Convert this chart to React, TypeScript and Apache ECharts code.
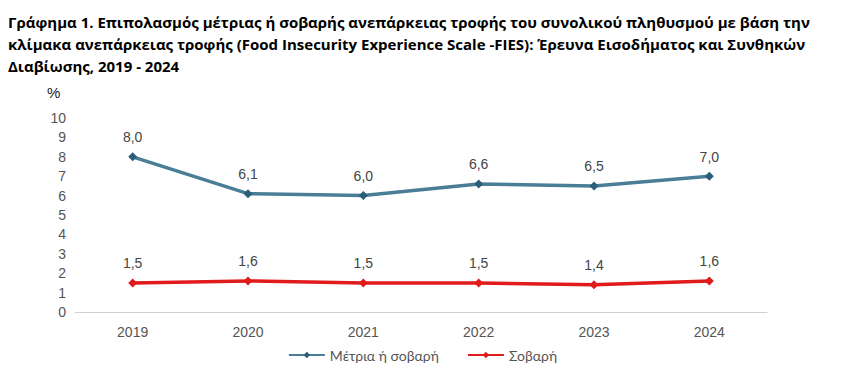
import React, { useEffect, useRef } from "react";
import * as echarts from "echarts";

const categories = ["2019", "2020", "2021", "2022", "2023", "2024"];
const moderateOrSevere = [8.0, 6.1, 6.0, 6.6, 6.5, 7.0];
const severe = [1.5, 1.6, 1.5, 1.5, 1.4, 1.6];
const seriesNames = ["Μέτρια ή σοβαρή", "Σοβαρή"];
const titleLines = [
  "Γράφημα 1. Επιπολασμός μέτριας ή σοβαρής ανεπάρκειας τροφής του συνολικού πληθυσμού με βάση την",
  "κλίμακα ανεπάρκειας τροφής (Food Insecurity Experience Scale -FIES): Έρευνα Εισοδήματος και Συνθηκών",
  "Διαβίωσης, 2019 - 2024",
];

const fmt = (v: number) => v.toFixed(1).replace(".", ",");

export default function App() {
  const ref = useRef<HTMLDivElement>(null);
  useEffect(() => {
    if (!ref.current) return;
    const chart = echarts.init(ref.current, undefined, { renderer: "svg" });
    chart.setOption({
      animation: false,
      backgroundColor: "#ffffff",
      title: {
        text: titleLines.join("\n"),
        left: 0,
        top: 3,
        padding: [0, 0, 0, 0],
        textStyle: {
          fontFamily: "Open Sans",
          fontWeight: "bold",
          fontSize: 15,
          lineHeight: 22,
          color: "#000000",
        },
      },
      graphic: [
        {
          type: "text",
          left: 39,
          top: 77,
          style: { text: "%", fontFamily: "Arial, Liberation Sans", fontSize: 15, fill: "#222" },
        },
      ],
      legend: {
        bottom: 4,
        left: "center",
        itemWidth: 36,
        itemHeight: 8,
        itemGap: 28,
        textStyle: { fontFamily: "Lato", fontSize: 14, color: "#555" },
        data: seriesNames,
      },
      grid: { left: 67, right: 70, top: 110, bottom: 59 },
      xAxis: {
        type: "category",
        data: categories,
        boundaryGap: true,
        axisLine: { lineStyle: { color: "#d0d0d0" } },
        axisTick: { show: false },
        axisLabel: { color: "#555", fontSize: 14, fontFamily: "Arial, Liberation Sans", margin: 13 },
      },
      yAxis: {
        type: "value",
        min: 0,
        max: 10,
        interval: 1,
        splitLine: { show: false },
        axisLine: { show: false },
        axisTick: { show: false },
        axisLabel: { color: "#555", fontSize: 14, fontFamily: "Arial, Liberation Sans", margin: 9 },
      },
      series: [
        {
          name: seriesNames[0],
          type: "line",
          data: moderateOrSevere,
          symbol: "diamond",
          symbolSize: 9,
          lineStyle: { color: "#4a7d96", width: 3.5 },
          itemStyle: { color: "#2b5e78" },
          label: {
            show: true,
            position: "top",
            distance: 8,
            formatter: (p: any) => fmt(p.value),
            color: "#444",
            fontSize: 14,
            fontFamily: "Arial, Liberation Sans",
          },
        },
        {
          name: seriesNames[1],
          type: "line",
          data: severe,
          symbol: "diamond",
          symbolSize: 9,
          lineStyle: { color: "#e01b1b", width: 3.5 },
          itemStyle: { color: "#e01b1b" },
          label: {
            show: true,
            position: "top",
            distance: 8,
            formatter: (p: any) => fmt(p.value),
            color: "#444",
            fontSize: 14,
            fontFamily: "Arial, Liberation Sans",
          },
        },
      ],
    });
    return () => chart.dispose();
  }, []);
  return <div ref={ref} style={{ width: 829, height: 363 }} />;
}
